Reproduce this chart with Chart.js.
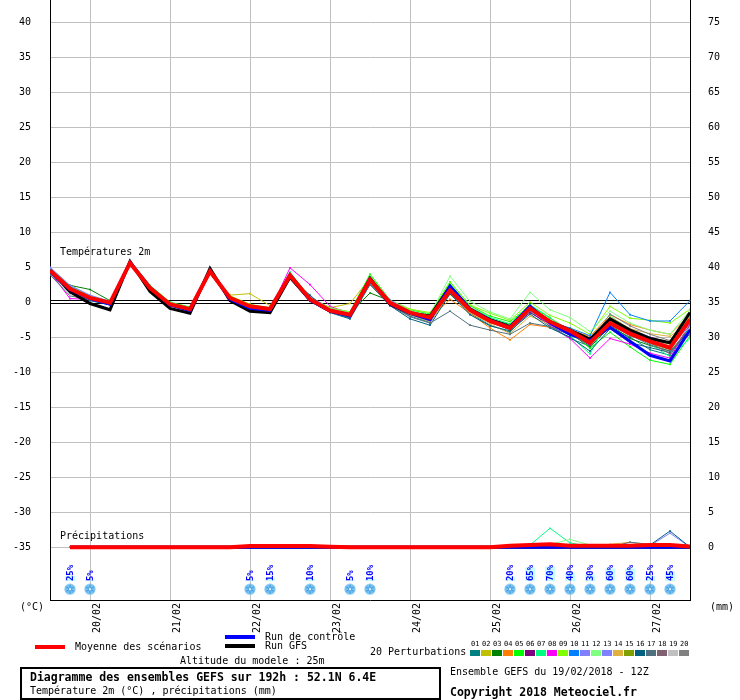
<!DOCTYPE html>
<html><head><meta charset="utf-8">
<script src="https://cdn.jsdelivr.net/npm/chart.js@4.4.1/dist/chart.umd.min.js"></script>
<style>
html,body{margin:0;padding:0;background:#fff;}
#wrap{position:relative;width:740px;height:700px;overflow:hidden;font-family:"DejaVu Sans Mono",monospace;font-size:10px;color:#000;}
#c{position:absolute;left:0;top:0;}
.t{position:absolute;white-space:pre;line-height:12px;}
.b{font-weight:bold;font-size:11.5px;}
.sw{position:absolute;}
#box{position:absolute;left:20px;top:667px;width:417px;height:29px;border:2px solid #000;}
.pn{position:absolute;font-size:7px;line-height:8px;width:11px;text-align:left;}
.pc{position:absolute;width:10px;height:6px;}
</style></head><body>
<div id="wrap">
<canvas id="c" width="740" height="700"></canvas>
<div class="t" style="left:60px;top:246px;">Températures 2m</div>
<div class="t" style="left:60px;top:530px;">Précipitations</div>
<div class="t" style="left:20px;top:601px;">(°C)</div>
<div class="t" style="left:710px;top:601px;">(mm)</div>
<div class="sw" style="left:35px;top:645px;width:30px;height:4px;background:#ff0000;"></div>
<div class="t" style="left:75px;top:641px;">Moyenne des scénarios</div>
<div class="sw" style="left:225px;top:635px;width:30px;height:4px;background:#0000ff;"></div>
<div class="t" style="left:265px;top:631px;">Run de contrôle</div>
<div class="sw" style="left:225px;top:644px;width:30px;height:4px;background:#000000;"></div>
<div class="t" style="left:265px;top:640px;">Run GFS</div>
<div class="t" style="left:180px;top:655px;">Altitude du modele : 25m</div>
<div id="box"></div>
<div class="t b" style="left:30px;top:671px;">Diagramme des ensembles GEFS sur 192h : 52.1N 6.4E</div>
<div class="t" style="left:30px;top:685px;">Température 2m (°C) , précipitations (mm)</div>
<div class="t" style="left:370px;top:646px;">20 Perturbations</div>
<div id="pert"></div>
<div class="t" style="left:450px;top:666px;">Ensemble GEFS du 19/02/2018 - 12Z</div>
<div class="t b" style="left:450px;top:686px;">Copyright 2018 Meteociel.fr</div>
</div>
<script>
// ---- time axis (hours from 19/02 12Z) ----
const HOURS = [0,6,12,18,24,30,36,42,48,54,60,66,72,78,84,90,96,102,108,114,120,126,132,138,144,150,156,162,168,174,180,186,192];
const DATE_TICKS = [12,36,60,84,108,132,156,180];
const DATE_LABELS = ['20/02','21/02','22/02','23/02','24/02','25/02','26/02','27/02'];
const TEMP_TICKS = [-35,-30,-25,-20,-15,-10,-5,0,5,10,15,20,25,30,35,40];
const PRECIP_TICKS = [0,5,10,15,20,25,30,35,40,45,50,55,60,65,70,75];

// ---- temperature 2m (°C) ----
const T_MEAN = [4.5,1.9,0.6,-0.1,5.6,2.0,-0.3,-1.0,4.4,0.6,-0.6,-1.0,3.8,0.4,-1.2,-1.8,3.2,-0.1,-1.5,-2.2,1.7,-1.1,-2.7,-3.7,-0.9,-2.8,-4.1,-5.8,-3.0,-4.5,-5.6,-6.5,-2.5];
const T_CTRL = [4.4,1.8,0.5,-0.3,5.7,2.1,-0.4,-1.2,4.5,0.4,-0.9,-1.2,3.9,0.3,-1.3,-2.0,3.3,-0.2,-1.6,-2.5,2.3,-1.0,-2.6,-3.6,-0.6,-3.0,-4.6,-5.5,-3.6,-5.6,-7.6,-8.4,-4.0];
const T_GFS  = [4.6,1.5,-0.2,-1.1,5.8,1.5,-0.9,-1.6,4.8,0.2,-1.3,-1.5,3.6,0.3,-1.3,-1.9,3.4,-0.3,-1.6,-2.0,2.2,-1.0,-2.5,-3.5,-0.8,-2.8,-4.0,-5.3,-2.4,-4.0,-5.2,-5.8,-1.5];
const T01 = [4.2,1.4,0.4,-0.3,5.5,1.8,-0.5,-1.3,4.2,0.5,-0.8,-1.4,3.5,0.2,-1.4,-2.3,2.8,-0.4,-2.0,-2.9,1.3,-1.6,-3.3,-4.3,-1.3,-3.5,-5.2,-6.3,-3.6,-5.0,-6.8,-7.6,-3.5];
const T02 = [4.8,2.2,0.9,0.1,5.6,2.2,-0.2,-0.9,4.3,1.0,1.2,-0.5,3.7,0.6,-0.8,-0.2,3.4,0.1,-1.3,-2.0,1.8,-1.0,-2.6,-3.5,-0.7,-2.6,-3.8,-5.4,-2.8,-4.0,-5.4,-6.0,-2.0];
const T03 = [4.0,2.4,1.8,0.2,5.7,2.3,-0.1,-0.8,4.6,0.8,-0.5,-0.9,3.6,0.5,-1.0,-1.6,1.3,0.2,-1.2,-1.8,2.5,-0.9,-2.4,-3.2,-0.3,-3.0,-4.4,-6.5,-3.3,-5.2,-6.2,-7.0,-3.9];
const T04 = [4.5,2.0,0.7,-0.1,5.6,2.0,-0.3,-1.1,4.4,0.6,-0.7,-1.1,3.8,0.3,-1.2,-1.9,3.0,-0.3,-1.7,-2.4,0.4,-1.6,-3.7,-5.4,-3.2,-3.6,-4.0,-4.9,-1.8,-3.2,-4.0,-4.6,-1.8];
const T05 = [4.7,2.1,0.8,0.0,5.9,2.4,0.0,-0.7,4.7,0.8,-0.4,-0.8,4.2,0.7,-0.9,-1.4,4.0,0.3,-1.1,-1.7,2.9,-0.5,-2.0,-2.8,-0.5,-2.3,-4.0,-6.6,-4.3,-6.4,-8.3,-8.9,-4.8];
const T06 = [4.4,1.6,0.3,-0.2,5.6,1.9,-0.4,-1.0,4.3,0.5,-0.7,-1.1,3.8,0.4,-1.1,-1.7,3.1,-0.1,-1.4,-2.1,1.9,-1.4,-2.9,-3.9,-1.5,-3.2,-4.5,-6.2,-2.8,-4.2,-5.0,-5.8,-2.3];
const T07 = [4.9,2.3,0.9,0.0,5.7,2.2,-0.2,-0.9,4.5,0.7,-0.6,-1.0,4.3,0.6,-1.0,-1.5,3.6,0.0,-1.4,-2.0,2.6,-0.7,-2.2,-3.1,-0.4,-2.2,-4.8,-7.4,-2.0,-3.9,-6.0,-7.8,-5.2];
const T08 = [4.3,0.5,0.4,-0.2,5.5,1.8,-0.4,-1.1,4.2,0.4,-0.8,-1.2,4.9,2.5,-0.6,-1.6,3.3,-0.2,-1.6,-2.1,1.9,-1.3,-2.8,-3.9,-1.1,-3.3,-5.2,-8.0,-5.2,-6.0,-7.3,-8.0,-3.1];
const T09 = [4.6,2.1,0.8,0.1,5.8,2.3,-0.1,-0.8,4.6,0.9,-0.3,-0.9,4.1,0.7,-0.8,-1.4,3.8,0.2,-1.0,-1.5,2.8,-0.4,-1.6,-2.6,0.0,-1.9,-3.0,-4.6,-0.6,-2.3,-2.6,-3.0,-1.0];
const T10 = [4.7,2.2,0.6,-0.1,5.6,2.1,-0.3,-1.0,4.4,0.6,-0.6,-1.0,3.9,0.4,-1.1,-1.8,3.4,0.0,-1.4,-2.2,2.0,-1.1,-2.6,-3.4,-0.9,-2.8,-3.7,-4.8,1.4,-1.8,-2.7,-2.7,0.2];
const T11 = [5.0,2.4,1.0,0.1,5.7,2.2,-0.2,-0.9,4.4,0.7,-0.6,-1.0,3.9,0.8,-0.9,-1.6,3.5,0.3,-1.3,-2.0,1.9,-0.9,-2.5,-3.6,-0.9,-2.7,-4.1,-5.7,-2.2,-3.8,-5.0,-6.4,-3.4];
const T12 = [4.6,2.0,0.7,0.0,5.8,2.3,-0.1,-0.8,4.6,0.8,-0.5,-0.9,4.0,0.6,-0.9,-1.5,3.7,0.1,-1.2,-1.8,3.7,0.1,-1.4,-2.4,1.4,-1.1,-2.2,-4.2,-1.3,-3.0,-4.0,-4.6,-1.2];
const T13 = [4.8,1.7,0.5,-0.1,5.6,2.0,-0.3,-1.1,4.3,0.5,-0.7,-1.1,3.7,0.3,-1.3,-2.0,3.0,-0.2,-1.6,-2.3,1.5,-1.2,-2.7,-4.0,-1.2,-2.9,-4.2,-5.9,-2.5,-4.3,-5.4,-6.8,-3.0];
const T14 = [4.3,1.8,0.5,-0.2,5.5,1.9,-0.4,-1.2,4.2,0.5,-0.8,-1.2,3.6,0.2,-1.3,-2.1,2.7,-0.4,-1.8,-2.8,1.1,-1.5,-3.1,-4.5,-2.0,-3.2,-4.3,-5.5,-2.1,-3.8,-4.5,-4.9,-2.8];
const T15 = [4.4,1.9,0.6,-0.1,5.7,2.1,-0.2,-1.0,4.5,0.6,-0.6,-1.0,3.9,0.4,-1.1,-1.7,3.3,0.0,-1.5,-2.2,2.2,-1.0,-2.4,-3.5,-0.7,-2.7,-3.9,-5.6,-2.7,-4.4,-5.9,-6.8,-2.2];
const T16 = [4.1,1.3,0.2,-0.4,5.5,1.7,-0.5,-1.3,4.1,0.3,-1.0,-1.4,3.4,1.0,-1.5,-2.4,2.5,-0.5,-2.4,-3.3,1.2,-1.8,-3.4,-4.1,-1.7,-3.7,-5.0,-7.0,-3.8,-5.8,-6.5,-7.2,-4.0];
const T17 = [3.9,0.9,0.3,-0.3,5.5,1.7,-0.5,-1.2,4.1,0.4,-0.9,-1.3,3.3,0.1,-1.4,-2.2,2.6,-0.5,-2.1,-3.0,-1.3,-3.3,-4.0,-4.6,-3.0,-3.5,-4.7,-6.0,-2.9,-4.7,-6.1,-7.0,-4.6];
const T18 = [4.5,1.5,0.4,-0.2,5.6,1.9,-0.4,-1.1,4.3,0.5,-0.7,-1.1,3.7,0.3,-1.2,-1.9,3.1,-0.2,-1.6,-2.4,1.6,-1.3,-2.9,-3.9,-1.0,-3.0,-4.4,-6.1,-3.2,-4.8,-5.8,-7.4,-3.3];
const T19 = [4.6,1.0,0.8,0.0,5.6,2.0,-0.3,-1.0,4.4,0.6,-0.6,-1.0,3.8,0.5,-1.2,-1.8,3.2,-0.1,-1.5,-2.2,1.8,-1.2,-2.6,-3.8,-1.0,-2.9,-4.3,-5.7,-3.1,-4.6,-5.6,-6.2,-3.6];
const T20 = [4.4,1.6,0.5,-0.1,5.6,2.0,-0.3,-1.0,4.3,0.5,-0.7,-1.0,3.7,0.4,-1.1,-1.8,3.1,-0.1,-1.5,-2.3,1.7,-1.2,-2.8,-3.8,-1.1,-3.1,-4.5,-5.9,-1.7,-3.4,-4.6,-5.5,-2.6];

// ---- precipitation (mm, 6h) ----
const P_MEAN = [null,0,0,0,0,0,0,0,0,0,0.15,0.15,0.15,0.15,0.05,0,0,0,0,0,0,0,0,0.2,0.3,0.4,0.2,0.2,0.2,0.2,0.3,0.3,0.1];
const P_CTRL = [null,0,0,0,0,0,0,0,0,0,0,0,0,0,0,0,0,0,0,0,0,0,0,0,0,0,0,0,0,0,0,0,0];
const P_GFS  = [null,0,0,0,0,0,0,0,0,0,0,0,0,0,0,0,0,0,0,0,0,0,0,0,0,0,0,0,0,0,0,0,0];
const P_DRY  = [null,0,0,0,0,0,0,0,0,0,0,0,0,0,0,0,0,0,0,0,0,0,0,0,0,0,0,0,0,0,0,0,0];
const P02 = [null,0,0,0,0,0,0,0,0,0,0,0,0,0,0,0,0,0,0,0,0,0,0,0,0.3,0.1,0,0,0,0,0,0,0];
const P06 = [null,0,0,0,0,0,0,0,0,0,0,0,0,0,0,0,0,0,0,0,0,0,0,0.2,0.3,0,0,0,0,0,0,0,0];
const P07 = [null,0,0,0,0,0,0,0,0,0,0,0,0,0,0,0,0,0,0,0,0,0,0,0.1,0.3,2.7,0.6,0.1,0,0,0,0,0];
const P11 = [null,0,0,0,0,0,0,0,0,0,0,0,0,0,0,0,0,0,0,0,0,0,0,0,0,0,0,0,0,0,0.2,2.0,0];
const P12 = [null,0,0,0,0,0,0,0,0,0,0,0,0,0,0,0,0,0,0,0,0,0,0,0,0,0.4,1.1,0.3,0,0,0,0,0];
const P14 = [null,0,0,0,0,0,0,0,0,0,0,0,0,0,0,0,0,0,0,0,0,0,0,0,0,0,0,0,0.4,0.7,0.3,0,0];
const P16 = [null,0,0,0,0,0,0,0,0,0,0,0,0,0,0,0,0,0,0,0,0,0,0,0,0,0,0,0,0,0,0.3,2.3,0];
const P17 = [null,0,0,0,0,0,0,0,0,0,0,0,0,0,0,0,0,0,0,0,0,0,0,0,0,0,0,0,0,0.7,0.4,0.2,0];

// ---- snow probability ----
const SNOW_HOURS = [6,12,60,66,78,90,96,138,144,150,156,162,168,174,180,186];
const SNOW_PCT   = [25,5,5,15,10,5,10,20,65,70,40,30,60,60,25,45];

// ---- members ----
const MEMBER_NAMES  = ['01','02','03','04','05','06','07','08','09','10','11','12','13','14','15','16','17','18','19','20'];
const MEMBER_COLORS = ['#008080','#c0c000','#008000','#ff8000','#00ff00','#800080','#00ff80','#ff00ff','#80ff00','#0080ff','#8080ff','#80ff80','#8080ff','#e0b040','#80a000','#006080','#507080','#806070','#c0c0c0','#808080'];
const MEMBER_T = [T01,T02,T03,T04,T05,T06,T07,T08,T09,T10,T11,T12,T13,T14,T15,T16,T17,T18,T19,T20];
const MEMBER_P = [P_DRY,P02,P_DRY,P_DRY,P_DRY,P06,P07,P_DRY,P_DRY,P_DRY,P11,P12,P_DRY,P14,P_DRY,P16,P17,P_DRY,P_DRY,P_DRY];

// legend swatches
const pert = document.getElementById('pert');
MEMBER_NAMES.forEach((n,i)=>{
  const x = 470 + i*11;
  const t = document.createElement('div'); t.className='pn'; t.style.left=(x+1)+'px'; t.style.top='640px'; t.textContent=n; pert.appendChild(t);
  const s = document.createElement('div'); s.className='pc'; s.style.left=x+'px'; s.style.top='650px'; s.style.background=MEMBER_COLORS[i]; pert.appendChild(s);
});

const pts = arr => HOURS.map((h,i)=>({x:h,y:arr[i]}));
const FONT = {family:'DejaVu Sans Mono', size:10};

function makeFlake(){
  const c=document.createElement('canvas'); c.width=12; c.height=12;
  const g=c.getContext('2d');
  g.fillStyle='#78c4f0'; g.beginPath(); g.arc(6,6,5.6,0,Math.PI*2); g.fill();
  g.strokeStyle='#3a90e0'; g.lineWidth=1;
  for(let k=0;k<3;k++){const a=k*Math.PI/3+Math.PI/2; g.beginPath(); g.moveTo(6+4.5*Math.cos(a),6+4.5*Math.sin(a)); g.lineTo(6-4.5*Math.cos(a),6-4.5*Math.sin(a)); g.stroke();}
  g.fillStyle='#d8f0ff'; g.fillRect(5,5,2,2);
  return c;
}
const FLAKE = makeFlake();

const datasets = [];
datasets.push({label:'Moyenne T', data:pts(T_MEAN), yAxisID:'y', borderColor:'#ff0000', borderWidth:4, pointRadius:0, order:1});
datasets.push({label:'Moyenne P', data:pts(P_MEAN), yAxisID:'y2', borderColor:'#ff0000', borderWidth:4, pointRadius:0, order:2});
datasets.push({label:'Controle T', data:pts(T_CTRL), yAxisID:'y', borderColor:'#0000ff', borderWidth:3, pointRadius:0, order:3});
datasets.push({label:'Controle P', data:pts(P_CTRL), yAxisID:'y2', borderColor:'#0000ff', borderWidth:3, pointRadius:0, order:4});
datasets.push({label:'GFS T', data:pts(T_GFS), yAxisID:'y', borderColor:'#000000', borderWidth:3, pointRadius:0, order:5});
datasets.push({label:'GFS P', data:pts(P_GFS), yAxisID:'y2', borderColor:'#000000', borderWidth:3, pointRadius:0, order:6});
MEMBER_T.forEach((arr,i)=>{
  datasets.push({label:'T'+MEMBER_NAMES[i], data:pts(arr), yAxisID:'y', borderColor:MEMBER_COLORS[i], backgroundColor:MEMBER_COLORS[i], borderWidth:1, pointRadius:1.2, pointStyle:'rect', pointBorderWidth:0, order:30-i});
  datasets.push({label:'P'+MEMBER_NAMES[i], data:pts(MEMBER_P[i]), yAxisID:'y2', borderColor:MEMBER_COLORS[i], backgroundColor:MEMBER_COLORS[i], borderWidth:1, pointRadius:1.2, pointStyle:'rect', pointBorderWidth:0, order:60-i});
});
datasets.push({label:'Neige', type:'scatter', data:SNOW_HOURS.map(h=>({x:h,y:-41})), yAxisID:'y', pointStyle:FLAKE, pointRadius:6, showLine:false, order:0});

const zeroLine = {
  id:'zeroLine',
  beforeDatasetsDraw(ch){
    const c=ch.ctx, a=ch.chartArea, p=Math.round(ch.scales.y.getPixelForValue(0));
    c.save(); c.strokeStyle='#000'; c.lineWidth=1;
    [p-1.5,p+1.5].forEach(yy=>{c.beginPath(); c.moveTo(a.left,yy); c.lineTo(a.right,yy); c.stroke();});
    c.restore();
  }
};
const snowText = {
  id:'snowText',
  afterDatasetsDraw(ch){
    const c=ch.ctx, xs=ch.scales.x, ys=ch.scales.y;
    const base=ys.getPixelForValue(-39.85);
    c.save();
    SNOW_HOURS.forEach((h,i)=>{
      const x=Math.round(xs.getPixelForValue(h));
      const hh=SNOW_PCT[i]*0.21;
      c.fillStyle='#c4fcff'; c.fillRect(x-5,base-hh,10,hh);
      c.save(); c.translate(x+0.5,base); c.rotate(-Math.PI/2);
      c.fillStyle='#0000ff'; c.font='bold 9px "DejaVu Sans Mono"'; c.textAlign='left'; c.textBaseline='middle';
      c.fillText(SNOW_PCT[i]+'%',0,0);
      c.restore();
    });
    c.restore();
  }
};
const noPad = s => { s.paddingTop = 0; s.paddingBottom = 0; s.paddingLeft = 0; s.paddingRight = 0; };

new Chart(document.getElementById('c'), {
  type:'line',
  data:{datasets},
  options:{
    responsive:false, animation:false, devicePixelRatio:1,
    layout:{padding:0, autoPadding:false},
    plugins:{legend:{display:false}, tooltip:{enabled:false}},
    elements:{line:{tension:0}},
    scales:{
      x:{type:'linear', min:0, max:192, position:'bottom',
        afterBuildTicks:s=>{s.ticks=DATE_TICKS.map(v=>({value:v}));},
        afterFit:s=>{s.height=100; noPad(s);},
        grid:{color:'#c0c0c0', drawTicks:false},
        border:{color:'#000', width:1},
        ticks:{autoSkip:false, minRotation:90, maxRotation:90, padding:3, labelOffset:7, color:'#000', font:FONT,
          callback:v=>DATE_LABELS[DATE_TICKS.indexOf(v)]}},
      y:{type:'linear', position:'left', min:-42.55, max:43.15,
        afterBuildTicks:s=>{s.ticks=TEMP_TICKS.map(v=>({value:v}));},
        afterFit:s=>{s.width=50; noPad(s);},
        grid:{color:c=>(c.tick && c.tick.value===0)?'rgba(0,0,0,0)':'#c0c0c0', drawTicks:false},
        border:{color:'#000', width:1},
        ticks:{padding:19, color:'#000', font:FONT}},
      y2:{type:'linear', position:'right', min:-7.55, max:78.15,
        afterBuildTicks:s=>{s.ticks=PRECIP_TICKS.map(v=>({value:v}));},
        afterFit:s=>{s.width=50; noPad(s);},
        grid:{display:false, drawTicks:false},
        border:{color:'#000', width:1},
        ticks:{padding:18, color:'#000', font:FONT}}
    }
  },
  plugins:[zeroLine, snowText]
});
</script>
</body></html>
